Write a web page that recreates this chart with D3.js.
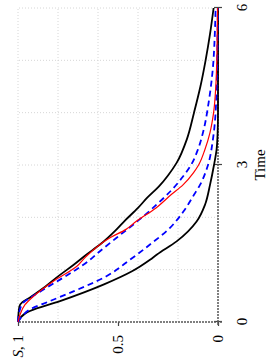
<!DOCTYPE html>
<html>
<head>
<meta charset="utf-8">
<script src="https://cdn.jsdelivr.net/npm/d3@7"></script>
<style>
  body { margin: 0; background: #fff; }
  text { font-family: "Liberation Serif", "Times New Roman", serif; }
</style>
</head>
<body>
<svg id="chart" width="273" height="363"></svg>
<script>
// survival curves, [time, S] pairs
var upperBlack = [[0,1],[0.30,0.993],[0.38,0.978],[0.47,0.94],[0.65,0.873],[0.90,0.79],[1.09,0.723],[1.29,0.657],
  [1.48,0.59],[1.77,0.507],[1.92,0.47],[2.18,0.40],[2.37,0.355],[2.6,0.293],[2.8,0.25],[3.04,0.207],[3.5,0.155],
  [4.0,0.12],[4.5,0.088],[5.0,0.062],[5.5,0.04],[6.0,0.022]];
var lowerBlack = [[0,1],[0.16,0.965],[0.21,0.94],[0.40,0.79],[0.72,0.57],[0.97,0.43],[1.19,0.34],[1.29,0.305],
  [1.54,0.207],[1.92,0.107],[2.24,0.065],[2.62,0.04],[3.0,0.02],[3.3,0.007],[3.6,0.002],[4.0,0],[6.0,0]];
var upperBlue = [[0,1],[0.2,0.993],[0.37,0.973],[0.46,0.94],[0.65,0.86],[0.81,0.79],[1.0,0.71],[1.19,0.64],
  [1.29,0.61],[1.61,0.507],[2.02,0.373],[2.25,0.305],[2.53,0.23],[2.78,0.175],[3.0,0.135],[3.3,0.1],
  [3.62,0.075],[4.24,0.045],[4.88,0.025],[5.5,0.016],[6.0,0.012]];
var lowerBlue = [[0,1],[0.11,0.98],[0.24,0.94],[0.40,0.84],[0.59,0.72],[0.87,0.56],[1.19,0.44],[1.48,0.34],
  [1.80,0.24],[2.11,0.173],[2.43,0.12],[2.62,0.09],[3.0,0.05],[3.5,0.025],[4.0,0.012],[5.0,0.004],[6.0,0.001]];
var redCurve = [[0,1],[0.14,0.99],[0.33,0.965],[0.49,0.923],[0.78,0.823],[1.06,0.707],[1.25,0.66],[1.61,0.54],
  [1.77,0.46],[1.92,0.41],[2.18,0.31],[2.43,0.235],[2.62,0.175],[2.85,0.123],[3.0,0.097],[3.3,0.065],
  [3.62,0.04],[4.0,0.022],[4.5,0.011],[5.0,0.006],[5.5,0.004],[6.0,0.002]];

var timeTicks = [0, 3, 6];
var sTicks = [0, 0.5, 1];
var timeGrid = [1, 2, 3, 4, 5, 6];
var sGrid = [0.2, 0.4, 0.6, 0.8, 1];

var svg = d3.select("#chart");

// the whole plot is drawn upright and then turned a quarter to the left
var g = svg.append("g")
  .attr("transform", "translate(0,363) rotate(-90)");

var x = d3.scaleLinear().domain([0, 6]).range([41, 355]);
var y = d3.scaleLinear().domain([0, 1]).range([218, 18]);

//dotted grid
g.selectAll(".vgrid")
  .data(timeGrid)
  .enter().append("line")
  .attr("x1", d => x(d)).attr("x2", d => x(d))
  .attr("y1", y(0)).attr("y2", y(1))
  .attr("stroke", "#d6d6d6")
  .attr("stroke-width", 1)
  .attr("stroke-dasharray", "1,2");

g.selectAll(".hgrid")
  .data(sGrid)
  .enter().append("line")
  .attr("x1", x(0)).attr("x2", x(6))
  .attr("y1", d => y(d)).attr("y2", d => y(d))
  .attr("stroke", "#d6d6d6")
  .attr("stroke-width", 1)
  .attr("stroke-dasharray", "1,2");

//axes
var xAxis = g.append("g")
  .attr("transform", "translate(0," + y(0) + ")")
  .call(d3.axisBottom(x).tickValues(timeTicks).tickSize(4).tickSizeOuter(0).tickPadding(14)
    .tickFormat(d3.format("d")));

var yAxis = g.append("g")
  .attr("transform", "translate(" + x(0) + ",0)")
  .call(d3.axisLeft(y).tickValues(sTicks).tickSize(4).tickSizeOuter(0).tickPadding(9)
    .tickFormat(d => d === 1 ? "" : String(d)));

[xAxis, yAxis].forEach(function(a) {
  a.select(".domain").remove();
  a.selectAll(".tick line").attr("stroke", "#444").attr("stroke-width", 1.2);
  a.selectAll(".tick text")
    .attr("fill", "#000")
    .style("font-size", "15px")
    .style("font-family", "'Liberation Serif', serif");
});
xAxis.selectAll(".tick line").attr("y1", -4);

var topLabel = yAxis.selectAll(".tick text").filter(d => d === 1);
topLabel.append("tspan").style("font-style", "italic").text("S");
topLabel.append("tspan").text(", 1");

// dashed axis lines, crossing a little at the origin
g.append("line")
  .attr("x1", x(0) - 3).attr("x2", x(6))
  .attr("y1", y(0)).attr("y2", y(0))
  .attr("stroke", "#555").attr("stroke-width", 1.5)
  .attr("stroke-dasharray", "2,1");

g.append("line")
  .attr("x1", x(0)).attr("x2", x(0))
  .attr("y1", y(0) + 4).attr("y2", y(1))
  .attr("stroke", "#555").attr("stroke-width", 1.5)
  .attr("stroke-dasharray", "2,1");

g.append("text")
  .attr("x", x(3))
  .attr("y", 265)
  .attr("text-anchor", "middle")
  .style("font-size", "15px")
  .text("Time");

//curves
var line = d3.line()
  .curve(d3.curveMonotoneX)
  .x(d => x(d[0]))
  .y(d => y(d[1]));

[upperBlack, lowerBlack].forEach(function(c) {
  g.append("path").attr("d", line(c))
    .attr("fill", "none").attr("stroke", "#000").attr("stroke-width", 1.8);
});

[upperBlue, lowerBlue].forEach(function(c) {
  g.append("path").attr("d", line(c))
    .attr("fill", "none").attr("stroke", "#0000ff").attr("stroke-width", 1.8)
    .attr("stroke-dasharray", "6,4");
});

g.append("path").attr("d", line(redCurve))
  .attr("fill", "none").attr("stroke", "#ff0000").attr("stroke-width", 1.2);
</script>
</body>
</html>
